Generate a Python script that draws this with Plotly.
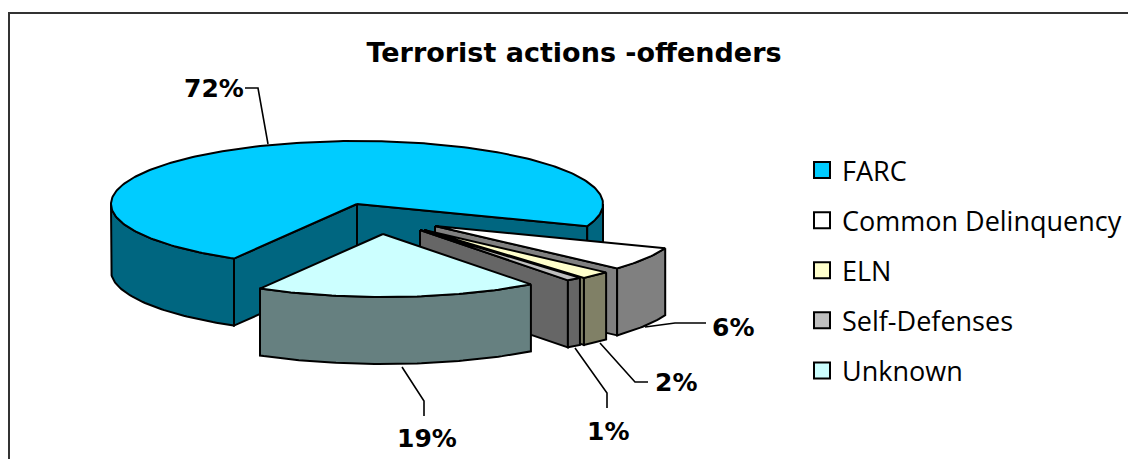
import math
import plotly.graph_objects as go

# ---- data ----
categories = ["FARC", "Common Delinquency", "ELN", "Self-Defenses", "Unknown"]
values = [72.4, 6, 2, 1, 18.6]
title_text = "Terrorist actions -offenders"

# ---- style ----
top_colors = ["#00CCFF", "#FFFFFF", "#FFFFCC", "#C0C0C0", "#CCFFFF"]
wall_colors = ["#006680", "#808080", "#808066", "#666666", "#668080"]

# ---- layout / projection (page pixels; the page body adds an 8px margin) ----
W, H = 1136, 459
PAD = 8
RX, RY, DEPTH = 246, 63, 67
START_DEG = 120
apexes = [(357, 204), (435, 226), (424, 230), (420, 230), (383, 234)]
label_pos = [(214, 88), (733, 327), (676, 382), (608, 431), (427, 438)]
leaders = [
    [(245, 88), (258, 88), (268, 144)],
    [(645, 327), (675, 323), (706, 323)],
    [(600, 343), (635, 382), (648, 382)],
    [(575, 348), (607, 393), (607, 408)],
    [(402, 367), (424, 401), (424, 416)],
]
LABEL_FONT = "DejaVu Sans"
LEGEND_FONT = "Open Sans"


def rim(ax, ay, t0, t1, dy=0):
    n = max(2, int(abs(t1 - t0)) + 2)
    ts = [t0 + (t1 - t0) * i / (n - 1) for i in range(n)]
    return [(ax + RX * math.cos(math.radians(t)), ay + dy + RY * math.sin(math.radians(t))) for t in ts]


def poly(points, fill):
    pts = list(points) + [points[0]]
    return go.Scatter(
        x=[p[0] for p in pts], y=[p[1] for p in pts], mode="lines", fill="toself",
        fillcolor=fill, line=dict(color="black", width=2), showlegend=False, hoverinfo="skip",
    )


def edge_face(apex, t, fill):
    ax, ay = apex
    ox, oy = rim(ax, ay, t, t + 1)[0]
    return poly([(ax, ay), (ox, oy), (ox, oy + DEPTH), (ax, ay + DEPTH)], fill)


def visible_arcs(t0, t1):
    out = []
    for lo, hi in [(0, 180), (360, 540)]:
        a, b = max(t0, lo), min(t1, hi)
        if b > a:
            out.append((a, b))
    return out


fig = go.Figure()
total = sum(values)
cursor = START_DEG
spans = []
for v in values:
    sweep = 360 * v / total
    spans.append((cursor, cursor + sweep))
    cursor += sweep
# normalise the slices after FARC back into the first turn
spans = [spans[0]] + [(a - 360, b - 360) for a, b in spans[1:]]

for i in range(len(categories)):
    t0, t1 = spans[i]
    apex = apexes[i]
    wall = wall_colors[i]
    if math.sin(math.radians(t0 - 90)) > 0:
        fig.add_trace(edge_face(apex, t0, wall))
    if math.sin(math.radians(t1 + 90)) > 0:
        fig.add_trace(edge_face(apex, t1, wall))
    for a, b in visible_arcs(t0, t1):
        up = rim(*apex, a, b)
        down = rim(*apex, a, b, DEPTH)
        fig.add_trace(poly(up + down[::-1], wall))
    fig.add_trace(poly([apex] + rim(*apex, t0, t1), top_colors[i]))

# leader lines
for pts in leaders:
    fig.add_trace(go.Scatter(
        x=[p[0] for p in pts], y=[p[1] for p in pts], mode="lines",
        line=dict(color="black", width=1.6), showlegend=False, hoverinfo="skip",
    ))

# legend entries
for name, col in zip(categories, top_colors):
    fig.add_trace(go.Scatter(
        x=[None], y=[None], mode="markers", name=name, legendgroup=name,
        marker=dict(symbol="square", size=16, color=col, line=dict(color="black", width=2)),
    ))

annotations = [
    dict(x=x, y=y, xref="x", yref="y", text=f"<b>{round(v)}%</b>", showarrow=False,
         xanchor="center", yanchor="middle", font=dict(family=LABEL_FONT, size=25, color="black"))
    for (x, y), v in zip(label_pos, values)
]


def paper_x(px):
    return (px - PAD) / (W - PAD)


def paper_y(py):
    return 1 - (py - PAD) / (H - PAD)


fig.update_layout(
    width=W - PAD, height=H - PAD, margin=dict(l=0, r=0, t=0, b=0),
    paper_bgcolor="white", plot_bgcolor="white",
    xaxis=dict(range=[PAD, W], visible=False, fixedrange=True),
    yaxis=dict(range=[H, PAD], visible=False, fixedrange=True),
    title=dict(text=f"<b>{title_text}</b>", x=paper_x(574), y=paper_y(53), xanchor="center", yanchor="middle",
               font=dict(family=LABEL_FONT, size=27, color="black")),
    legend=dict(x=paper_x(802), y=paper_y(146), xanchor="left", yanchor="top", bgcolor="rgba(0,0,0,0)",
                font=dict(family=LEGEND_FONT, size=27, color="black"), tracegroupgap=12, itemwidth=30,
                traceorder="grouped"),
    annotations=annotations,
    shapes=[dict(type="rect", xref="x", yref="y", x0=9, y0=13, x1=1300, y1=600,
                 line=dict(color="#333333", width=2))],
)
fig.write_html("out.html")
